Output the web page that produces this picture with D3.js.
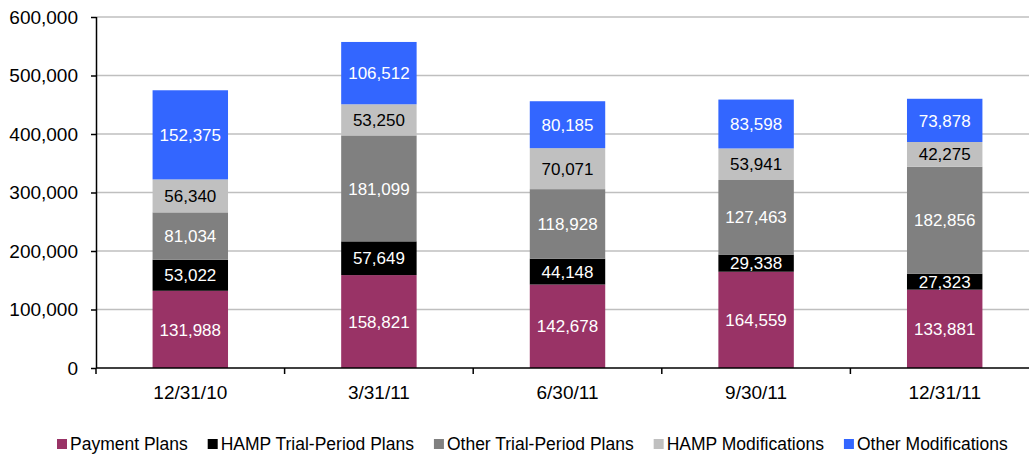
<!DOCTYPE html>
<html>
<head>
<meta charset="utf-8">
<script src="https://cdn.jsdelivr.net/npm/d3@7"></script>
<style>
  body { margin: 0; background: #fff; }
  svg { display: block; font-family: "Liberation Sans", Arial, sans-serif; }
</style>
</head>
<body>
<svg id="chart" width="1029" height="456"></svg>
<script>
// ===== DATA =====
const categories = ['12/31/10', '3/31/11', '6/30/11', '9/30/11', '12/31/11'];
const seriesNames = ['Payment Plans', 'HAMP Trial-Period Plans', 'Other Trial-Period Plans', 'HAMP Modifications', 'Other Modifications'];
const paymentPlans = [131988, 158821, 142678, 164559, 133881];
const hampTrial = [53022, 57649, 44148, 29338, 27323];
const otherTrial = [81034, 181099, 118928, 127463, 182856];
const hampMods = [56340, 53250, 70071, 53941, 42275];
const otherMods = [152375, 106512, 80185, 83598, 73878];
const yTicks = [0, 100000, 200000, 300000, 400000, 500000, 600000];

const colors = ['#993366', '#000000', '#808080', '#C0C0C0', '#3366FF'];
const labelColors = ['#FFFFFF', '#FFFFFF', '#FFFFFF', '#000000', '#FFFFFF'];

const rows = categories.map((c, i) => ({
    cat: c,
    s0: paymentPlans[i], s1: hampTrial[i], s2: otherTrial[i], s3: hampMods[i], s4: otherMods[i]
}));
const keys = ['s0', 's1', 's2', 's3', 's4'];

const svg = d3.select('#chart');
const plotL = 96, plotR = 1039, plotT = 17, plotB = 368;

const x = d3.scaleBand().domain(categories).range([plotL, plotR]).paddingInner(0.6).paddingOuter(0.3);
const y = d3.scaleLinear().domain([0, 600000]).range([plotB, plotT]);

// gridlines
svg.append('g').selectAll('line').data(yTicks.slice(1)).join('line')
    .attr('x1', plotL).attr('x2', 1029)
    .attr('y1', d => y(d)).attr('y2', d => y(d))
    .attr('stroke', '#BFBFBF').attr('stroke-width', 1.5);

// stacked bars
const stack = d3.stack().keys(keys)(rows);
stack.forEach((layer, si) => {
    const g = svg.append('g');
    g.selectAll('rect').data(layer).join('rect')
        .attr('x', d => x(d.data.cat))
        .attr('width', x.bandwidth())
        .attr('y', d => y(d[1]))
        .attr('height', d => y(d[0]) - y(d[1]))
        .attr('fill', colors[si]);
    g.selectAll('text').data(layer).join('text')
        .attr('x', d => x(d.data.cat) + x.bandwidth() / 2)
        .attr('y', d => (y(d[0]) + y(d[1])) / 2)
        .attr('dy', '0.36em')
        .attr('text-anchor', 'middle')
        .attr('font-size', 17)
        .attr('fill', labelColors[si])
        .text(d => d3.format(',')(d[1] - d[0]));
});

// y axis
const yAxis = svg.append('g').attr('transform', `translate(${plotL},0)`)
    .call(d3.axisLeft(y).tickValues(yTicks).tickFormat(d3.format(',')).tickSize(5).tickPadding(13));
yAxis.select('.domain').attr('stroke', '#000').attr('stroke-width', 1.5).attr('d', `M0.5,${plotT}V${plotB}`);
yAxis.selectAll('.tick line').attr('stroke', '#000').attr('stroke-width', 1.5);
yAxis.selectAll('.tick text').attr('font-size', 19).attr('fill', '#000').attr('font-family', null);

// x axis
const xg = svg.append('g');
xg.append('line').attr('x1', plotL).attr('x2', 1029).attr('y1', plotB).attr('y2', plotB)
    .attr('stroke', '#000').attr('stroke-width', 1.5);
const step = x.step();
const bounds = categories.map((c, i) => plotL + i * step);
xg.selectAll('line.tk').data(bounds).join('line').attr('class', 'tk')
    .attr('x1', d => d).attr('x2', d => d).attr('y1', plotB).attr('y2', plotB + 6)
    .attr('stroke', '#000').attr('stroke-width', 1.5);
xg.selectAll('text').data(categories).join('text')
    .attr('x', d => x(d) + x.bandwidth() / 2)
    .attr('y', 392).attr('dy', '0.36em')
    .attr('text-anchor', 'middle').attr('font-size', 19).attr('fill', '#000')
    .text(d => d);

// legend
const lg = svg.append('g');
let lx = 57;
seriesNames.forEach((name, i) => {
    lg.append('rect').attr('x', lx).attr('y', 439).attr('width', 10).attr('height', 10).attr('fill', colors[i]);
    const t = lg.append('text').attr('x', lx + 13).attr('y', 444).attr('dy', '0.36em')
        .attr('font-size', 17.5).attr('fill', '#000').text(name);
    lx += 13 + t.node().getComputedTextLength() + 20;
});
</script>
</body>
</html>
